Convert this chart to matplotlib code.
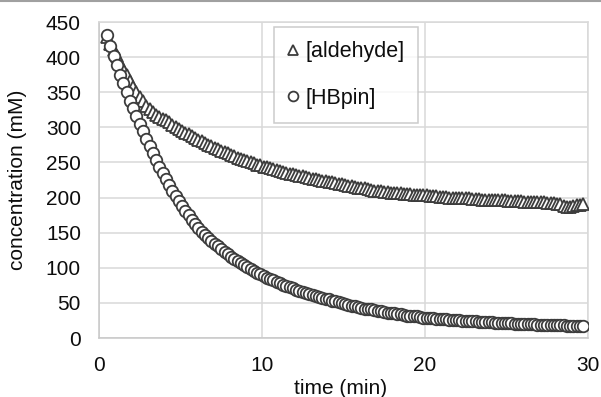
import matplotlib
matplotlib.use("Agg")
import matplotlib.pyplot as plt
from matplotlib.lines import Line2D

plt.rcParams['font.family'] = ['Liberation Sans', 'DejaVu Sans']

# sampling times (min)
time_min = [
    0.5, 0.7, 0.9, 1.1, 1.3, 1.5, 1.7, 1.9, 2.1, 2.3,
    2.5, 2.7, 2.9, 3.1, 3.3, 3.5, 3.7, 3.9, 4.1, 4.3,
    4.5, 4.7, 4.9, 5.1, 5.3, 5.5, 5.7, 5.9, 6.1, 6.3,
    6.5, 6.7, 6.9, 7.1, 7.3, 7.5, 7.7, 7.9, 8.1, 8.3,
    8.5, 8.7, 8.9, 9.1, 9.3, 9.5, 9.7, 9.9, 10.1, 10.3,
    10.5, 10.7, 10.9, 11.1, 11.3, 11.5, 11.7, 11.9, 12.1, 12.3,
    12.5, 12.7, 12.9, 13.1, 13.3, 13.5, 13.7, 13.9, 14.1, 14.3,
    14.5, 14.7, 14.9, 15.1, 15.3, 15.5, 15.7, 15.9, 16.1, 16.3,
    16.5, 16.7, 16.9, 17.1, 17.3, 17.5, 17.7, 17.9, 18.1, 18.3,
    18.5, 18.7, 18.9, 19.1, 19.3, 19.5, 19.7, 19.9, 20.1, 20.3,
    20.5, 20.7, 20.9, 21.1, 21.3, 21.5, 21.7, 21.9, 22.1, 22.3,
    22.5, 22.7, 22.9, 23.1, 23.3, 23.5, 23.7, 23.9, 24.1, 24.3,
    24.5, 24.7, 24.9, 25.1, 25.3, 25.5, 25.7, 25.9, 26.1, 26.3,
    26.5, 26.7, 26.9, 27.1, 27.3, 27.5, 27.7, 27.9, 28.1, 28.3,
    28.5, 28.7, 28.9, 29.1, 29.3, 29.5, 29.7,
]

# [aldehyde] (mM)
aldehyde = [
    428, 419, 410, 401, 392, 383, 375, 366, 358, 350,
    343, 337, 331, 326, 322, 318, 315, 312, 310, 307,
    304, 301, 298, 295, 292, 290, 287, 285, 282, 280,
    278, 275, 273, 271, 269, 267, 265, 263, 261, 259,
    257, 255, 254, 252, 250, 249, 247, 246, 244, 243,
    242, 240, 239, 238, 237, 235, 234, 233, 232, 231,
    230, 229, 228, 227, 226, 225, 224, 223, 222, 221.5,
    221, 220, 219, 218, 217, 216, 215, 214, 214, 213,
    212, 211, 210, 210, 209, 208, 208, 207, 207, 206,
    206, 205, 205, 205, 204, 204, 203, 203, 203, 202,
    202, 202, 201, 201, 201, 200, 200, 200, 200, 199,
    199, 199, 198, 198, 198, 197, 197, 197, 197, 196,
    196, 196, 196, 195, 195, 195, 195, 195, 194, 194,
    194, 194, 193, 193, 193, 192, 192, 192, 191, 191,
    188, 187, 187, 188, 189, 190, 191,
]

# [HBpin] (mM)
hbpin = [
    431, 416, 402, 389, 375, 363, 350, 338, 327, 316,
    305, 295, 284, 273, 263, 253, 244, 235, 226, 218,
    209, 202, 195, 188, 181, 175, 168, 162, 157, 151,
    147, 143, 138, 134, 131, 127, 123, 120, 116, 113,
    110, 107, 104, 101, 98, 96, 93, 91, 89, 86,
    84, 82, 80, 78, 76, 74, 72, 71, 69, 67,
    66, 64, 63, 61, 60, 58, 57, 56, 55, 53,
    52, 51, 50, 49, 47, 46, 45, 44, 43, 42,
    41, 41, 40, 39, 38, 37, 36, 36, 35, 34,
    34, 33, 32, 32, 31, 31, 30, 29, 29, 28.6,
    28, 27.7, 27.3, 27, 26.6, 26.2, 25.9, 25.5, 25.2, 24.9,
    24.5, 24.2, 23.9, 23.6, 23.3, 23, 22.8, 22.5, 22.2, 22,
    21.7, 21.5, 21.3, 21, 20.8, 20.6, 20.4, 20.2, 20, 19.8,
    19.6, 19.4, 19.2, 19, 18.9, 18.7, 18.5, 18.4, 18.2, 18.1,
    17.9, 17.8, 17.6, 17.5, 17.4, 17.2, 17.1,
]

x_ticks = [0, 10, 20, 30]
y_ticks = [0, 50, 100, 150, 200, 250, 300, 350, 400, 450]

edge = '#3c3c3c'
grid_c = '#d9d9d9'
text_c = '#0d0d0d'
fs = 15

fig = plt.figure(figsize=(6.01, 3.97), dpi=100)
ax = fig.add_axes([99 / 601, 1 - 338 / 397, 489 / 601, 316 / 397])

ax.plot(time_min, aldehyde, linestyle='none', marker='^', ms=8.5,
        mfc='white', mec=edge, mew=1.3, label='[aldehyde]', zorder=3)
ax.plot(time_min, hbpin, linestyle='none', marker='o', ms=8.3,
        mfc='white', mec=edge, mew=1.3, label='[HBpin]', zorder=4)

ax.set_xlim(0, 30)
ax.set_ylim(0, 450)
ax.set_xticks(x_ticks)
ax.set_yticks(y_ticks)
ax.tick_params(length=0, labelsize=fs, labelcolor=text_c, pad=13)
ax.grid(True, color=grid_c, linewidth=1.1)
ax.set_axisbelow(True)
for side, sp in ax.spines.items():
    sp.set_color('#c8c8c8' if side in ('left', 'bottom') else grid_c)
    sp.set_linewidth(1.1)

ax.set_xlabel('time (min)', fontsize=fs, color=text_c)
ax.set_ylabel('concentration (mM)', fontsize=fs, color=text_c)
ax.xaxis.set_label_coords(0.493, -0.13)
ax.yaxis.set_label_coords(-0.147, 0.5)

leg = ax.legend(loc='upper left', bbox_to_anchor=(0.358, 0.984),
                fontsize=15.5, frameon=True, fancybox=False, markerscale=0.85,
                handlelength=0.5, handletextpad=0.3, labelspacing=1.2,
                borderpad=0.65, borderaxespad=0)
leg.get_frame().set_edgecolor('#bfbfbf')
leg.get_frame().set_linewidth(1.1)
for t in leg.get_texts():
    t.set_color(text_c)

# thin rule along the top edge of the figure
fig.add_artist(Line2D([0, 1], [0.998, 0.998], transform=fig.transFigure,
                      color='#a0a0a0', linewidth=1.5))

fig.savefig('out.png', dpi=100)
